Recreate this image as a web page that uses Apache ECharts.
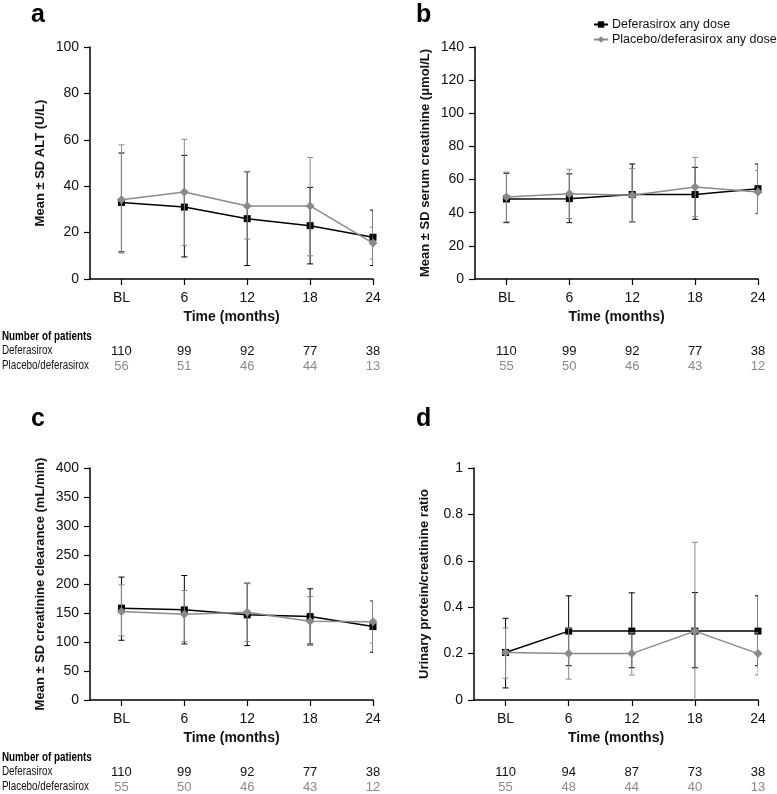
<!DOCTYPE html>
<html><head><meta charset="utf-8">
<script src="https://cdn.jsdelivr.net/npm/echarts@6/dist/echarts.min.js"></script>
<style>html,body{margin:0;padding:0;background:#fff}#c{width:777px;height:794px}</style>
</head><body><div id="c"></div>
<script>
// ---- Data ----
const months = [0, 6, 12, 18, 24];
const xLabels = ['BL', '6', '12', '18', '24'];

// a: ALT (U/L)
const altDefMean = [33, 31, 26, 23, 18];
const altDefLow  = [11.7, 9.5, 5.8, 6.5, 5.8];
const altDefHigh = [54.3, 53.3, 46.2, 39.5, 29.7];
const altPlaMean = [34.2, 37.5, 31.5, 31.5, 15.5];
const altPlaLow  = [11.2, 14.5, 17.2, 10, 8.7];
const altPlaHigh = [57.8, 60.2, 46.4, 52.4, 22.3];

// b: serum creatinine (umol/L)
const crDefMean = [48.3, 48.5, 51, 51, 54.5];
const crDefLow  = [34, 34, 34.5, 36, 39.5];
const crDefHigh = [63.8, 63.4, 69.4, 67.4, 69.4];
const crPlaMean = [49.5, 51.5, 50.5, 55.5, 52.5];
const crPlaLow  = [34.5, 36.5, 34.5, 37.6, 39.4];
const crPlaHigh = [64.5, 66.2, 66.6, 73.4, 65.4];

// c: creatinine clearance (mL/min)
const ccDefMean = [158.4, 155.4, 146.8, 143.9, 126.6];
const ccDefLow  = [103, 96.7, 93.8, 96.5, 82.4];
const ccDefHigh = [211.9, 214.7, 201.5, 191.7, 171];
const ccPlaMean = [152.5, 148, 151.4, 135.9, 134.7];
const ccPlaLow  = [110.5, 100.7, 100.7, 94, 97.9];
const ccPlaHigh = [198.6, 188.8, 200.5, 178.4, 171.5];

// d: urinary protein/creatinine ratio
const upDefMean = [0.205, 0.297, 0.297, 0.297, 0.297];
const upDefLow  = [0.052, 0.148, 0.139, 0.139, 0.148];
const upDefHigh = [0.352, 0.449, 0.462, 0.463, 0.449];
const upPlaMean = [0.205, 0.2, 0.2, 0.297, 0.2];
const upPlaLow  = [0.094, 0.09, 0.108, -0.08, 0.108];
const upPlaHigh = [0.31, 0.31, 0.29, 0.68, 0.29];

// Number of patients
const nDefA = [110, 99, 92, 77, 38];
const nPlaA = [56, 51, 46, 44, 13];
const nDefB = [110, 99, 92, 77, 38];
const nPlaB = [55, 50, 46, 43, 12];
const nDefC = [110, 99, 92, 77, 38];
const nPlaC = [55, 50, 46, 43, 12];
const nDefD = [110, 94, 87, 73, 38];
const nPlaD = [55, 48, 44, 40, 13];

const yTitles = ['Mean \u00b1 SD ALT (U/L)', 'Mean \u00b1 SD serum creatinine (\u03bcmol/L)',
  'Mean \u00b1 SD creatinine clearance (mL/min)', 'Urinary protein/creatinine ratio'];
const yMax = [100, 140, 400, 1];
const yInterval = [20, 20, 50, 0.2];
const xTitle = 'Time (months)';
const seriesNames = ['Deferasirox any dose', 'Placebo/deferasirox any dose'];
const rowLabels = ['Number of patients', 'Deferasirox', 'Placebo/deferasirox'];
const panelLetters = ['a', 'b', 'c', 'd'];

// ---- Chart ----
const FONT = "'Liberation Sans', Arial, Helvetica, sans-serif";
const BLACK = '#000000';
const GRAY = '#8a8a8a';

const panels = [
  {def: [altDefMean, altDefLow, altDefHigh], pla: [altPlaMean, altPlaLow, altPlaHigh], n: [nDefA, nPlaA]},
  {def: [crDefMean, crDefLow, crDefHigh], pla: [crPlaMean, crPlaLow, crPlaHigh], n: [nDefB, nPlaB]},
  {def: [ccDefMean, ccDefLow, ccDefHigh], pla: [ccPlaMean, ccPlaLow, ccPlaHigh], n: [nDefC, nPlaC]},
  {def: [upDefMean, upDefLow, upDefHigh], pla: [upPlaMean, upPlaLow, upPlaHigh], n: [nDefD, nPlaD]}
];

const gridPos = [
  {left: 90, right: 404, top: 47, height: 232},
  {left: 475, right: 19, top: 47, height: 232},
  {left: 90, right: 404, top: 468, height: 232},
  {left: 474, right: 19, top: 468, height: 232}
];

const grid = [], xAxis = [], yAxis = [], series = [];

function errRender(color) {
  return function (params, api) {
    const x = api.value(0);
    const lo = api.coord([x, api.value(1)]);
    const hi = api.coord([x, api.value(2)]);
    const w = 3;
    const st = {stroke: color, lineWidth: 1};
    return {
      type: 'group',
      children: [
        {type: 'line', shape: {x1: lo[0], y1: lo[1], x2: hi[0], y2: hi[1]}, style: st},
        {type: 'line', shape: {x1: lo[0] - w, y1: lo[1], x2: lo[0] + w, y2: lo[1]}, style: st},
        {type: 'line', shape: {x1: hi[0] - w, y1: hi[1], x2: hi[0] + w, y2: hi[1]}, style: st}
      ]
    };
  };
}

panels.forEach((p, i) => {
  grid.push(Object.assign({containLabel: false}, gridPos[i]));
  xAxis.push({
    type: 'value', gridIndex: i, min: -3, max: 24, position: 'bottom',
    name: xTitle, nameLocation: 'middle', nameGap: 31,
    nameTextStyle: {fontFamily: FONT, fontWeight: 'bold', fontSize: 14, color: '#111'},
    axisLine: {show: true, onZero: false, lineStyle: {color: '#000', width: 1.5}},
    axisTick: {show: true, customValues: months, length: 6, lineStyle: {color: '#000', width: 1.2}},
    axisLabel: {customValues: months, margin: 12, fontFamily: FONT, fontSize: 14, color: '#111',
      formatter: v => xLabels[months.indexOf(v)]},
    splitLine: {show: false}
  });
  [0, 1].forEach(k => {
    xAxis.push({
      type: 'value', gridIndex: i, min: -3, max: 24, position: 'bottom', offset: k === 0 ? 58 : 73,
      axisLine: {show: false, onZero: false}, axisTick: {show: false}, splitLine: {show: false},
      axisLabel: {customValues: months, margin: 8, fontFamily: FONT, fontSize: 13,
        color: k === 0 ? '#111' : '#8a8a8a',
        formatter: v => String(p.n[k][months.indexOf(v)])}
    });
  });
  yAxis.push({
    type: 'value', gridIndex: i, min: 0, max: yMax[i], interval: yInterval[i],
    name: yTitles[i], nameLocation: 'middle', nameGap: 43, nameRotate: 90,
    nameTextStyle: {fontFamily: FONT, fontWeight: 'bold', fontSize: 13, color: '#111'},
    axisLine: {show: true, onZero: false, lineStyle: {color: '#000', width: 1.5}},
    axisTick: {show: true, length: 6, lineStyle: {color: '#000', width: 1.2}},
    axisLabel: {margin: 11, fontFamily: FONT, fontSize: 14, color: '#111'},
    splitLine: {show: false}
  });
  const xi = i * 3;
  const mk = (arr) => months.map((m, j) => [m, arr[1][j], arr[2][j]]);
  series.push({
    type: 'custom', xAxisIndex: xi, yAxisIndex: i, renderItem: errRender(BLACK),
    data: mk(p.def), encode: {x: 0, y: [1, 2]}, clip: true, z: 2, silent: true
  });
  series.push({
    type: 'line', name: seriesNames[0], xAxisIndex: xi, yAxisIndex: i,
    data: months.map((m, j) => [m, p.def[0][j]]),
    symbol: 'rect', symbolSize: 7, showAllSymbol: true,
    lineStyle: {color: BLACK, width: 1.5}, itemStyle: {color: BLACK}, z: 3
  });
  series.push({
    type: 'custom', xAxisIndex: xi, yAxisIndex: i, renderItem: errRender(GRAY),
    data: mk(p.pla), encode: {x: 0, y: [1, 2]}, clip: true, z: 4, silent: true
  });
  series.push({
    type: 'line', name: seriesNames[1], xAxisIndex: xi, yAxisIndex: i,
    data: months.map((m, j) => [m, p.pla[0][j]]),
    symbol: 'diamond', symbolSize: 9, showAllSymbol: true,
    lineStyle: {color: GRAY, width: 1.5}, itemStyle: {color: GRAY}, z: 5
  });
});

const graphic = [];
const letterPos = [[31, 15], [416, 15], [31, 419], [416, 419]];
panelLetters.forEach((l, i) => {
  graphic.push({type: 'text', x: letterPos[i][0], y: letterPos[i][1],
    style: {text: l, font: 'bold 25px ' + FONT, fill: '#000', verticalAlign: 'middle'}});
});
[0, 421].forEach(dy => {
  graphic.push({type: 'text', x: 2, y: 337 + dy, scaleX: 0.82,
    style: {text: rowLabels[0], font: 'bold 12px ' + FONT, fill: '#000', verticalAlign: 'middle'}});
  graphic.push({type: 'text', x: 2, y: 351 + dy, scaleX: 0.82,
    style: {text: rowLabels[1], font: '12px ' + FONT, fill: '#111', verticalAlign: 'middle'}});
  graphic.push({type: 'text', x: 2, y: 366 + dy, scaleX: 0.82,
    style: {text: rowLabels[2], font: '12px ' + FONT, fill: '#111', verticalAlign: 'middle'}});
});

const chart = echarts.init(document.getElementById('c'), null, {renderer: 'canvas'});
chart.setOption({
  animation: false,
  backgroundColor: '#fff',
  grid, xAxis, yAxis, series, graphic,
  legend: {
    data: seriesNames, orient: 'vertical', left: 593, top: 18, itemGap: 2, padding: 0,
    itemWidth: 14, itemHeight: 8,
    textStyle: {fontFamily: FONT, fontSize: 12.5, color: '#111', padding: [0, 0, 0, -1]}
  }
});
</script></body></html>
